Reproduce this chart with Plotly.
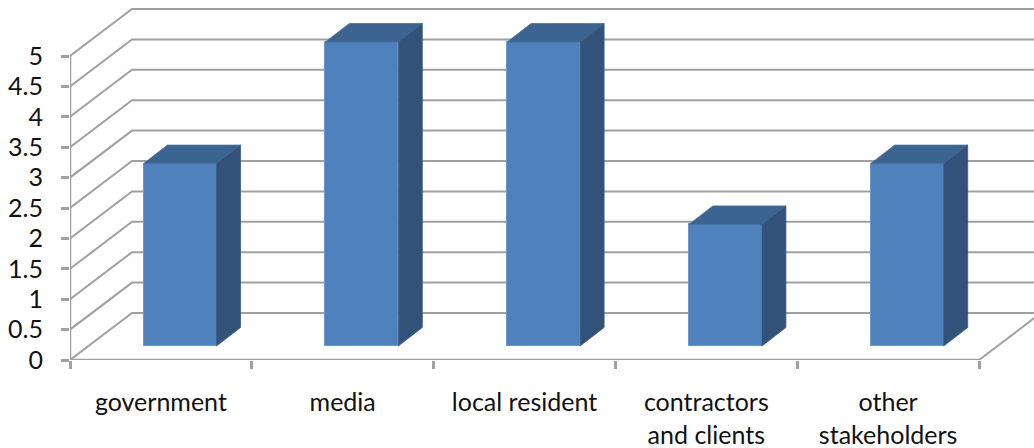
import plotly.graph_objects as go

categories = ["government", "media", "local resident", "contractors<br>and clients", "other<br>stakeholders"]
values = [3, 5, 5, 2, 3]
y_ticks = [0, 0.5, 1, 1.5, 2, 2.5, 3, 3.5, 4, 4.5, 5]
y_labels = ["0", "0.5", "1", "1.5", "2", "2.5", "3", "3.5", "4", "4.5", "5"]

# pixel scale of the front plane
PX_X = 181.8
PX_Y = 60.8
W, H = 1034, 448
L, B = 70, 88
x_range = [0, (W - L) / PX_X]
y_range = [0, (H - B) / PX_Y]

wall_dx, wall_dy = 62 / PX_X, 47 / PX_Y       # depth of the back wall
bar_dx, bar_dy = 24 / PX_X, 18.5 / PX_Y       # depth of a bar
bar_w = 73 / PX_X
bar_center = 110 / PX_X
bar_base = 14 / PX_Y

GRID = "#a0a0a0"
FONT = "Lato"
FS_Y, FS_X = 25, 25
LINE_GAP_FS = 32.5 / 1.3

fig = go.Figure()

# walls and grid on the base axes
for v in y_ticks:
    fig.add_trace(go.Scatter(
        x=[0, wall_dx, x_range[1] + 1], y=[v, v + wall_dy, v + wall_dy],
        mode="lines", line=dict(color=GRID, width=2), hoverinfo="skip", showlegend=False))
fig.add_trace(go.Scatter(
    x=[5, 5 + wall_dx], y=[0, wall_dy], mode="lines",
    line=dict(color=GRID, width=2), hoverinfo="skip", showlegend=False))
fig.add_trace(go.Scatter(
    x=[0, 0, 5], y=[5, 0, 0], mode="lines", cliponaxis=False,
    line=dict(color=GRID, width=2.5), hoverinfo="skip", showlegend=False))

# solid bars on an overlay so they cover the grid
xc = [i + bar_center for i in range(len(values))]
fig.add_trace(go.Bar(
    x=xc, y=values, base=bar_base, width=bar_w, xaxis="x2", yaxis="y2",
    marker=dict(color="#4f81bd", line=dict(color="#6c97cc", width=1)),
    hovertemplate="%{y}<extra></extra>", showlegend=False))

for c, v in zip(xc, values):
    left, right = c - bar_w / 2, c + bar_w / 2
    top = v + bar_base
    fig.add_trace(go.Scatter(
        x=[left, left + bar_dx, right + bar_dx, right, left],
        y=[top, top + bar_dy, top + bar_dy, top, top],
        xaxis="x2", yaxis="y2", mode="lines", fill="toself", fillcolor="#3c6491",
        line=dict(color="#4a70a0", width=0.8), hoverinfo="skip", showlegend=False))
    fig.add_trace(go.Scatter(
        x=[right, right + bar_dx, right + bar_dx, right, right],
        y=[top, top + bar_dy, bar_base + bar_dy, bar_base, top],
        xaxis="x2", yaxis="y2", mode="lines", fill="toself", fillcolor="#325279",
        line=dict(color="#3a5c86", width=0.8), hoverinfo="skip", showlegend=False))


def sized(label):
    return "<br>".join(f"<span style='font-size:{FS_X}px'>{p}</span>" for p in label.split("<br>"))


fig.update_layout(
    width=W, height=H, margin=dict(l=L, r=0, t=0, b=B, pad=0),
    paper_bgcolor="white", plot_bgcolor="white", showlegend=False, bargap=0,
    font=dict(family=FONT, color="#111111"),
    xaxis=dict(
        range=x_range, showgrid=False, zeroline=False, showline=False,
        tickmode="array", tickvals=[i + 0.5 for i in range(len(categories))],
        ticktext=[sized(c) for c in categories], ticks="", ticklabelstandoff=25,
        tickfont=dict(family=FONT, size=LINE_GAP_FS, color="#111111"),
        minor=dict(tickmode="array", tickvals=list(range(len(categories) + 1)),
                   ticks="outside", ticklen=8, tickwidth=2.5, tickcolor=GRID, showgrid=False),
    ),
    yaxis=dict(
        range=y_range, showgrid=False, zeroline=False, showline=False,
        tickmode="array", tickvals=y_ticks, ticktext=y_labels,
        ticks="outside", ticklen=8, tickwidth=2.5, tickcolor=GRID, ticklabelstandoff=13,
        tickfont=dict(family=FONT, size=FS_Y, color="#111111"),
    ),
    xaxis2=dict(range=x_range, overlaying="x", visible=False),
    yaxis2=dict(range=y_range, overlaying="y", visible=False),
)

fig.write_html("out.html", post_script="document.body.style.margin='0';", config={"displayModeBar": False})
